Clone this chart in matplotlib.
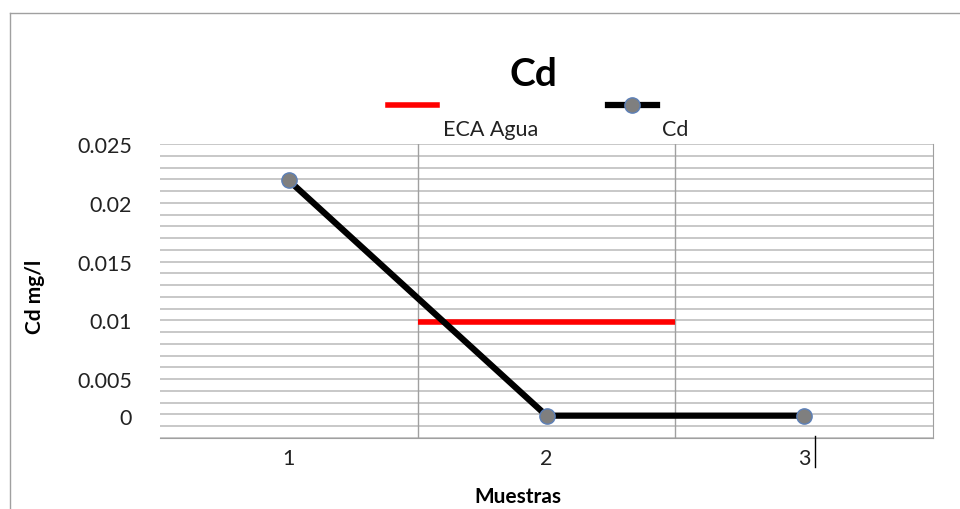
import numpy as np
import matplotlib
matplotlib.use('Agg')
import matplotlib.pyplot as plt
from matplotlib.lines import Line2D

plt.rcParams['font.family'] = ['Lato', 'DejaVu Sans']

# data
muestras = [1, 2, 3]
cd_values = [0.0219, 0.0019, 0.0019]
eca_limit = 0.0099
eca_span = [1.5, 2.5]
ytick_pos = [0.0019, 0.005, 0.01, 0.015, 0.02, 0.025]
ytick_labels = ['0', '0.005', '0.01', '0.015', '0.02', '0.025']

fig = plt.figure(figsize=(9.6, 5.1), dpi=100)
ax = fig.add_axes([160 / 960, 1 - 439 / 510, (933 - 160) / 960, (439 - 145) / 510])

# minor horizontal grid every 0.001
for y in np.arange(0, 0.0251, 0.001):
    ax.axhline(y, color='#c8c8c8', lw=1.4, zorder=1)
for x in [1.5, 2.5]:
    ax.axvline(x, color='#a0a0a0', lw=1.0, zorder=1)

ax.plot(eca_span, [eca_limit, eca_limit], color='#ff0000', lw=4, zorder=3,
        solid_capstyle='butt')
ax.plot(muestras, cd_values, color='black', lw=4.5, zorder=4,
        marker='o', markersize=11, markerfacecolor='#7f7f7f',
        markeredgecolor='#5b7fb8', markeredgewidth=1)

ax.set_xlim(0.5, 3.5)
ax.set_ylim(0, 0.025)
ax.set_xticks(muestras)
ax.set_xticklabels([str(m) for m in muestras], fontsize=15.5, color='#222222')
ax.set_yticks(ytick_pos)
ax.set_yticklabels(ytick_labels, fontsize=15.5, color='#222222')
ax.tick_params(axis='both', length=0)
ax.tick_params(axis='y', pad=20)
ax.tick_params(axis='x', pad=7)
for side in ['top', 'left']:
    ax.spines[side].set_visible(False)
for side in ['bottom', 'right']:
    ax.spines[side].set_color('#a0a0a0')

# axis titles
fig.text(518 / 960, 1 - 497 / 510, 'Muestras', fontsize=15, fontweight='bold',
         ha='center', va='center')
fig.text(35 / 960, 1 - 297 / 510, 'Cd mg/l', fontsize=15, fontweight='bold',
         ha='center', va='center', rotation=90)

fig.text(533 / 960, 1 - 75 / 510, 'Cd', fontsize=28, fontweight='bold',
         ha='center', va='center')

# legend drawn by hand, text sits below-right of the key
fig.add_artist(Line2D([388 / 960, 437 / 960], [1 - 106 / 510] * 2,
                      color='#ff0000', lw=4, transform=fig.transFigure))
fig.add_artist(Line2D([608 / 960, 657 / 960], [1 - 106 / 510] * 2,
                      color='black', lw=4.5, transform=fig.transFigure))
fig.add_artist(Line2D([632 / 960], [1 - 106 / 510], marker='o', markersize=11,
                      markerfacecolor='#7f7f7f', markeredgecolor='#5b7fb8',
                      markeredgewidth=1, transform=fig.transFigure))
fig.text(443 / 960, 1 - 130 / 510, 'ECA Agua', fontsize=15.5, va='center',
         color='#222222')
fig.text(662 / 960, 1 - 130 / 510, 'Cd', fontsize=15.5, va='center',
         color='#222222')

# chart frame edges and text cursor
fig.add_artist(Line2D([10 / 960, 10 / 960], [0, 1 - 14 / 510], color='#a0a0a0',
                      lw=1, transform=fig.transFigure))
fig.add_artist(Line2D([10 / 960, 1], [1 - 14 / 510] * 2, color='#a0a0a0',
                      lw=1, transform=fig.transFigure))
fig.add_artist(Line2D([815 / 960, 815 / 960], [1 - 437 / 510, 1 - 468 / 510],
                      color='black', lw=1, transform=fig.transFigure))

fig.savefig('out.png', dpi=100)
